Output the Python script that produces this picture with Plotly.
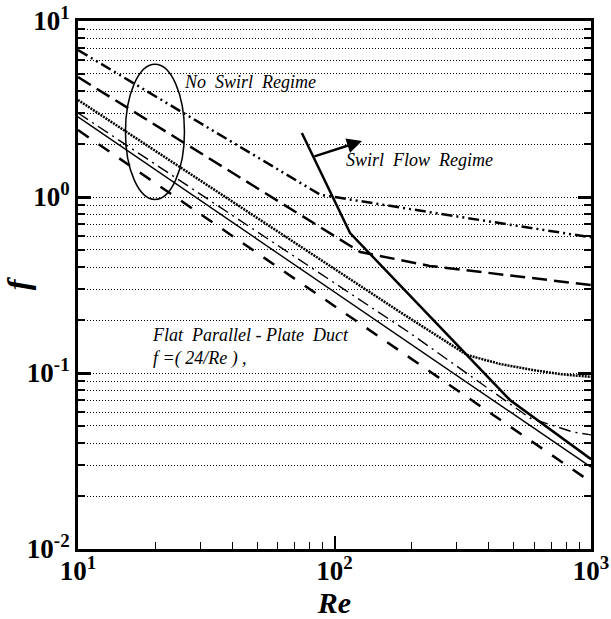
import math
import plotly.graph_objects as go

# ---- data (Re, f) ----
re_ddot = [10, 88, 235, 1000]
f_ddot = [6.84, 1.03, 0.82, 0.59]

re_ldash = [10, 126, 235, 1000]
f_ldash = [4.8, 0.487, 0.406, 0.316]

re_dot = [10, 180, 329, 442, 594, 757, 1000]
f_dot = [3.56, 0.222, 0.1265, 0.1125, 0.104, 0.0986, 0.095]

re_dashdot = [10, 197, 578, 851, 1000]
f_dashdot = [3.0, 0.1686, 0.0555, 0.0462, 0.0445]

re_solid = [10, 1000]
f_solid = [2.85, 0.0292]

re_flat = [10, 1000]
f_flat = [2.4, 0.024]

re_swirl = [74.6, 115, 483, 1000]
f_swirl = [2.31, 0.624, 0.0703, 0.0324]

x_tickvals = [10, 100, 1000]
x_ticktext = ["10<sup>1</sup>", "10<sup>2</sup>", "10<sup>3</sup>"]
y_tickvals = [0.01, 0.1, 1, 10]
y_ticktext = ["10<sup>-2</sup>", "10<sup>-1</sup>", "10<sup>0</sup>", "10<sup>1</sup>"]

FONT = "Liberation Serif"

fig = go.Figure()

def add(x, y, width, dash):
    fig.add_trace(go.Scatter(x=x, y=y, mode="lines",
                             line=dict(color="black", width=width, dash=dash),
                             showlegend=False, hoverinfo="skip"))

add(re_ddot, f_ddot, 2.5, "11px,4px,2px,4px,2px,4px")
add(re_ldash, f_ldash, 2.5, "15px,7px")
add(re_dot, f_dot, 2.5, "2px,1px")
add(re_dashdot, f_dashdot, 1.4, "12px,5px,2px,5px")
add(re_solid, f_solid, 1.4, "solid")
add(re_flat, f_flat, 2.5, "13px,12px")
add(re_swirl, f_swirl, 2.5, "solid")

# ellipse around the no-swirl lines (paper coords)
cx, cy, rx, ry = 0.150, 0.790, 0.0575, 0.128
fig.add_shape(type="circle", xref="paper", yref="paper",
              x0=cx - rx, x1=cx + rx, y0=cy - ry, y1=cy + ry,
              line=dict(color="black", width=1.5))

L = math.log10
fig.add_annotation(x=L(128), y=L(2.08), ax=L(82.4), ay=L(1.69),
                   xref="x", yref="y", axref="x", ayref="y",
                   showarrow=True, arrowhead=2, arrowsize=1.2, arrowwidth=2.5,
                   arrowcolor="black", text="")

txtfont = dict(family=FONT, size=18, color="black")
fig.add_annotation(x=1.405, y=0.653, xref="x", yref="y", showarrow=False,
                   xanchor="left", yanchor="middle",
                   text="<i>No  Swirl  Regime</i>", font=txtfont)
fig.add_annotation(x=2.037, y=0.210, xref="x", yref="y", showarrow=False,
                   xanchor="left", yanchor="middle",
                   text="<i>Swirl  Flow  Regime</i>", font=txtfont)
fig.add_annotation(x=1.281, y=-0.852, xref="x", yref="y", showarrow=False,
                   xanchor="left", yanchor="middle", align="left",
                   text="<i>Flat  Parallel - Plate  Duct<br>f =( 24/Re ) ,</i>",
                   font=txtfont)

minor_vals = [k * d for d in [0.01, 0.1, 1] for k in range(2, 10)]
minor_x = [k * d for d in [10, 100] for k in range(2, 10)]

fig.update_layout(
    width=611, height=619,
    margin=dict(l=78, r=20, t=21, b=70),
    plot_bgcolor="white", paper_bgcolor="white",
    font=dict(family=FONT, color="black"),
    xaxis=dict(type="log", range=[1, 3], showgrid=False, zeroline=False,
               automargin=False,
               showline=True, linecolor="black", linewidth=3, mirror=True,
               ticks="inside", ticklen=13, tickwidth=1.5, tickcolor="black",
               tickvals=x_tickvals, ticktext=x_ticktext,
               ticklabelstandoff=-4,
               tickfont=dict(family=FONT, size=27, weight="bold"),
               minor=dict(tickmode="array", tickvals=minor_x, ticks="inside",
                          ticklen=7, tickwidth=1, tickcolor="black", showgrid=False),
               title=dict(text="<b><i>Re</i></b>", font=dict(family=FONT, size=30),
                          standoff=2)),
    yaxis=dict(type="log", range=[-2, 1], zeroline=False,
               automargin=False,
               showline=True, linecolor="black", linewidth=3, mirror="ticks",
               ticks="inside", ticklen=13, tickwidth=2.5, tickcolor="black",
               tickvals=y_tickvals, ticktext=y_ticktext,
               tickfont=dict(family=FONT, size=27, weight="bold"),
               showgrid=True, gridcolor="black", gridwidth=1, griddash="1px,2px",
               minor=dict(tickmode="array", tickvals=minor_vals, ticks="inside",
                          ticklen=7, tickwidth=1.5, tickcolor="black",
                          showgrid=True, gridcolor="black", gridwidth=1,
                          griddash="1px,2px"),
               title=dict(text="<b><i>f</i></b>", font=dict(family=FONT, size=32),
                          standoff=4)),
)

fig.write_html("out.html")
